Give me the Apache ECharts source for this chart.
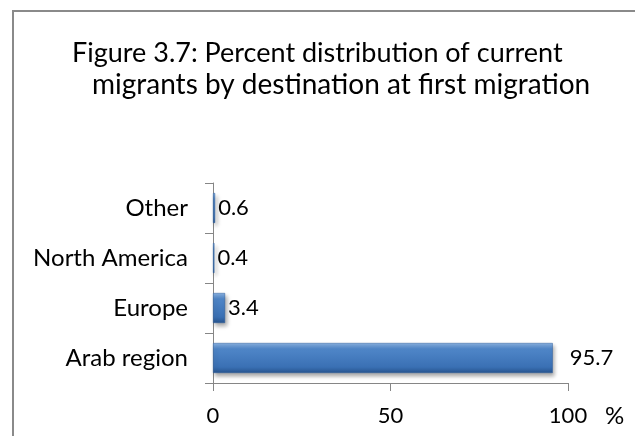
<!DOCTYPE html>
<html>
<head>
<meta charset="utf-8">
<script src="https://cdn.jsdelivr.net/npm/echarts@6/dist/echarts.min.js"></script>
<style>
  html, body { margin: 0; padding: 0; background: #fff; }
  #chart { width: 635px; height: 436px; }
</style>
</head>
<body>
<div id="chart"></div>
<script>
// destinations, bottom to top as drawn
let categories = ["Arab region", "Europe", "North America", "Other"];
let percents = [95.7, 3.4, 0.4, 0.6];
let xTicks = { min: 0, max: 100, interval: 50 };
let titleLines = [
  "Figure 3.7: Percent distribution of current",
  "migrants by destination at first migration"
];

let font = "Lato, 'Open Sans', sans-serif";

let barColor = new echarts.graphic.LinearGradient(0, 0, 0, 1, [
  { offset: 0, color: "#8ab2e2" },
  { offset: 0.2, color: "#4f86c8" },
  { offset: 0.8, color: "#3a70b4" },
  { offset: 1, color: "#26548e" }
]);

let titleStyle = {
  fontFamily: font,
  fontWeight: "normal",
  fontSize: 27,
  lineHeight: 27,
  color: "#000"
};

var myChart = echarts.init(document.getElementById("chart"));
myChart.setOption({
  animation: false,
  title: [
    { text: titleLines[0], left: 72, top: 40, padding: 0, textStyle: titleStyle },
    {
      text: titleLines[1],
      left: 92,
      top: 71,
      padding: 0,
      textStyle: Object.assign({}, titleStyle, { fontSize: 28, lineHeight: 28 })
    }
  ],
  graphic: [
    {
      type: "rect",
      shape: { x: 13, y: 11, width: 640, height: 460 },
      style: { fill: "none", stroke: "#8a8a8a", lineWidth: 2 },
      silent: true
    }
  ],
  grid: { left: 213, right: 67, top: 183, bottom: 53, outerBoundsMode: "none" },
  xAxis: {
    type: "value",
    min: xTicks.min,
    max: xTicks.max,
    interval: xTicks.interval,
    // empty first line pushes the unit down beside the tick labels
    name: "\n%",
    nameLocation: "end",
    nameGap: 37,
    nameTextStyle: {
      fontFamily: font,
      fontSize: 24,
      lineHeight: 66,
      verticalAlign: "middle",
      color: "#000"
    },
    axisLine: { show: true, lineStyle: { color: "#868686", width: 1 } },
    axisTick: { show: true, length: 8, lineStyle: { color: "#868686" } },
    axisLabel: {
      fontFamily: font,
      fontSize: 22,
      color: "#000",
      margin: 22
    },
    splitLine: { show: false }
  },
  yAxis: {
    type: "category",
    data: categories,
    axisLine: { show: true, lineStyle: { color: "#868686", width: 1 } },
    axisTick: { show: true, length: 8, lineStyle: { color: "#868686" } },
    axisLabel: {
      fontFamily: font,
      fontSize: 24,
      color: "#000",
      margin: 25
    }
  },
  series: [
    {
      type: "bar",
      data: percents.map(function(v, i) {
        // the long bar's label sits further out
        return i === 0 ? { value: v, label: { distance: 17 } } : v;
      }),
      barWidth: "60%",
      itemStyle: {
        color: barColor,
        borderColor: "#2f5f9c",
        borderWidth: 0.5,
        shadowColor: "rgba(0,0,0,0.35)",
        shadowBlur: 4,
        shadowOffsetX: 2,
        shadowOffsetY: 3
      },
      label: {
        show: true,
        position: "right",
        distance: 3,
        fontFamily: font,
        fontSize: 22,
        color: "#000",
        formatter: function(p) {
          return p.value.toFixed(1);
        }
      }
    }
  ]
});
</script>
</body>
</html>
